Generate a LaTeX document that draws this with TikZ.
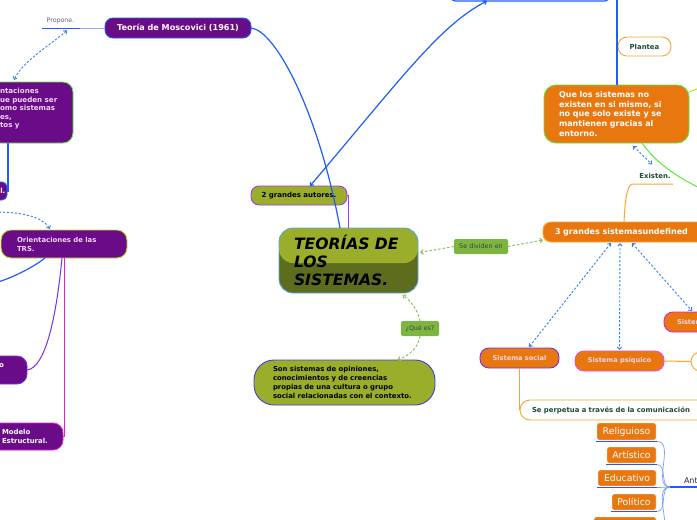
\documentclass[tikz,border=0pt]{standalone}
\usepackage{fontspec}
\setmainfont{DejaVu Sans}
\usetikzlibrary{arrows.meta,calc}
\definecolor{cPurple}{HTML}{6A0B87}
\definecolor{cOrange}{HTML}{E9770F}
\definecolor{cOlive}{HTML}{9AAE2C}
\definecolor{cOliveDk}{HTML}{5E6C1E}
\definecolor{cLabel}{HTML}{7CB640}
\definecolor{cBlue}{HTML}{1F5EF5}
\definecolor{cDash}{HTML}{2F80E8}
\definecolor{cTxtGreen}{HTML}{1C4A3A}
\definecolor{cMagenta}{HTML}{E01FE0}
\definecolor{cViolet}{HTML}{7A2EF2}
\definecolor{cGreenB}{HTML}{5EE83C}
\definecolor{cYGreen}{HTML}{BFE22A}
\definecolor{cLav}{HTML}{F0D6F0}
\definecolor{cDashG}{HTML}{8CC05A}
\definecolor{cBorderOr}{HTML}{F7A535}
\definecolor{cDescB}{HTML}{3E3EE0}
\definecolor{cPurpB}{HTML}{A23CE6}
\definecolor{cCenterB}{HTML}{5AA8E0}
\tikzset{
  base/.style={inner sep=0pt, outer sep=0pt, line width=0.9pt},
  pbox/.style={base, fill=cPurple, rounded corners=8pt, text=white, font=\bfseries\fontsize{6.9}{9}\selectfont},
  obox/.style={base, fill=cOrange, rounded corners=8pt, text=white, font=\bfseries\fontsize{6.9}{9}\selectfont},
  lbl/.style={base, fill=cLabel, rounded corners=2pt, text=black!75, font=\fontsize{6.4}{7}\selectfont},
  wpill/.style={base, fill=white, draw=cBorderOr, text=cTxtGreen, font=\bfseries\fontsize{6.9}{8}\selectfont},
  smallbox/.style={base, fill=cOrange, draw=white, line width=0.4pt, rounded corners=1.5pt, text=white, font=\fontsize{9.3}{10}\selectfont},
  conn/.style={draw=cBlue, line width=1.2pt},
  thinb/.style={draw=cBlue!60, line width=0.7pt},
  dashb/.style={draw=cDash, line width=0.9pt, dash pattern=on 2.2pt off 1.8pt},
  dashg/.style={draw=cDashG, line width=1pt, dash pattern=on 2.5pt off 2pt},
  uline/.style={draw=cBlue, line width=1.2pt},
  orline/.style={draw=cBorderOr, line width=1pt},
}
\begin{document}
\begin{tikzpicture}[x=1pt,y=-1pt, >={Straight Barb[length=2.5pt,width=4.5pt]}]
\useasboundingbox (0,0) rectangle (697,520);
\clip (0,0) rectangle (697,520);
\fill[white] (0,0) rectangle (697,520);

% ---------- nodes ----------
\node[base, draw=cBlue, line width=1.2pt, rounded corners=4pt, minimum width=158, minimum height=30] (topbox) at (530,-14) {};

\node[pbox, draw=cBlue, minimum width=146, minimum height=20, font=\bfseries\fontsize{8.1}{9}\selectfont] (mosc) at (178,28) {Teoría de Moscovici (1961)};
\node[base, text=black!60, font=\fontsize{6.3}{7}\selectfont] (propone) at (60.5,21) {Propone.};

\node[pbox, draw=cGreenB, rounded corners=10pt, minimum width=85, minimum height=61] (lefttop) at (30.5,112.5) {};
\node[base, anchor=north west, align=left, text=cLav, font=\bfseries\fontsize{7.1}{8.4}\selectfont] (lefttoptxt) at (0,88.5) {ntaciones\\ue pueden ser\\omo sistemas\\es,\\tos y};

\node[pbox, draw=cBlue, rounded corners=5pt, minimum width=19, minimum height=18] (ln) at (-2.5,191) {};
\node[base, text=white, font=\bfseries\fontsize{7}{8}\selectfont, anchor=west] (lntxt) at (0.3,190.5) {l.};

\node[pbox, draw=cYGreen, rounded corners=10pt, minimum width=126, minimum height=28, text=cLav, inner xsep=16pt, text width=94pt, align=left] (orient) at (64,244) {Orientaciones de las\\TRS.};

\node[pbox, draw=cViolet, rounded corners=10pt, minimum width=39, minimum height=28] (obox) at (7.5,370) {};
\node[base, text=white, font=\bfseries\fontsize{7}{8}\selectfont] (otxt) at (1.5,366) {o};

\node[pbox, draw=cMagenta, rounded corners=10pt, minimum width=75, minimum height=27, inner xsep=14pt, text width=47pt, align=left] (modelo) at (25.5,436.5) {\mbox{Modelo}\\\mbox{Estructural.}};

\node[base, fill=cOlive, draw=cPurpB, rounded corners=8pt, minimum width=96, minimum height=19, font=\bfseries\fontsize{7}{8}\selectfont] (gauto) at (299,195.5) {2 grandes autores.};

\node[base, draw=cCenterB, fill=cOliveDk, rounded corners=14pt, minimum width=139, minimum height=65, inner xsep=15pt, text width=109pt, align=left, font=\bfseries\itshape\fontsize{15.6}{17.8}\selectfont,
  path picture={\fill[cOlive] (path picture bounding box.north west) rectangle ([yshift=-35pt]path picture bounding box.north east);}] (center) at (348.5,260.5) {\mbox{TEORÍAS DE}\\LOS\\SISTEMAS.};

\node[base, fill=cOlive, draw=cDescB, rounded corners=20pt, minimum width=181, minimum height=45, inner xsep=19pt, text width=143pt, align=left, font=\bfseries\fontsize{6.9}{8.9}\selectfont] (desc) at (344.5,382.5) {\mbox{Son sistemas de opiniones,}\\\mbox{conocimientos y de creencias}\\\mbox{propias de una cultura o grupo}\\\mbox{social relacionadas con el contexto.}};

\node[lbl, minimum width=38, minimum height=15, font=\fontsize{6.3}{7}\selectfont] (qes) at (420,328.5) {¿Qué es?};
\node[lbl, minimum width=54, minimum height=15] (sediv) at (481,246.5) {Se dividen en};

\node[obox, draw=cBorderOr, minimum width=162, minimum height=20, inner xsep=12pt, text width=138pt, align=left, font=\bfseries\fontsize{8}{9}\selectfont] (tres) at (624,232) {\mbox{3 grandes sistemasundefined}};

\node[obox, draw=cGreenB, rounded corners=12pt, minimum width=145, minimum height=58, inner xsep=15pt, text width=115pt, align=left, font=\bfseries\fontsize{8}{9.7}\selectfont] (queb) at (616.5,114) {\mbox{Que los sistemas no}\\\mbox{existen en si mismo, si}\\\mbox{no que solo existe y se}\\\mbox{mantienen gracias al}\\entorno.};

\node[wpill, rounded corners=9pt, minimum width=53, minimum height=19] (plantea) at (644.5,46.5) {Plantea};
\node[base, text=cTxtGreen, font=\bfseries\fontsize{6.9}{7}\selectfont] (existen) at (655,176) {Existen.};

\node[obox, draw=cViolet, rounded corners=9pt, minimum width=79, minimum height=20, text=cLav, font=\bfseries\fontsize{6.6}{7}\selectfont] (ssoc) at (519.5,358) {Sistema social};
\node[obox, draw=cMagenta!80, rounded corners=9pt, minimum width=89, minimum height=20, text=cLav, font=\bfseries\fontsize{6.6}{7}\selectfont] (spsi) at (619.5,361) {Sistema psíquico};
\node[obox, draw=cMagenta, rounded corners=9pt, minimum width=76, minimum height=20, inner xsep=13pt, text width=50pt, align=left, text=cLav, font=\bfseries\fontsize{6.6}{7}\selectfont] (sthird) at (702,322) {Sistema};
\node[wpill, rounded corners=9.5pt, minimum width=49, minimum height=19] (swhite) at (715.5,361.5) {};

\node[wpill, rounded corners=10pt, minimum width=200, minimum height=20, inner xsep=12pt, text width=176pt, align=left] (perp) at (620,410) {\mbox{Se perpetua a través de la comunicación}};

\node[smallbox, minimum width=59, minimum height=17] (rel) at (626.5,431.5) {Religuioso};
\node[smallbox, minimum width=49, minimum height=16] (art) at (631.5,455) {Artístico};
\node[smallbox, minimum width=58, minimum height=16] (edu) at (627,478) {Educativo};
\node[smallbox, minimum width=44, minimum height=16] (pol) at (634,502) {Político};
\node[smallbox, minimum width=62, minimum height=17] (fifth) at (625,525.5) {};
\node[base, anchor=base west, text=black!85, font=\fontsize{8}{9}\selectfont] (ant) at (684,483) {Ant};

% ---------- coordinates ----------
\coordinate (pl) at (42,28.5);
\coordinate (pr) at (80,28.5);
\coordinate (dashin) at (-5,212);
\coordinate (oblue) at (-5,283);
\coordinate (topin) at (617,-5);
\coordinate (ygout) at (702,87);
\coordinate (gout) at (702,189);
\coordinate (exl) at (632,184);
\coordinate (exr) at (673,184);
\coordinate (junc) at (670,487);
\coordinate (antl) at (700,487);

% ---------- connectors ----------
\draw[uline] (pl) -- (pr);
\draw[draw=cBlue!50, line width=0.6pt] (pr) -- (pr -| mosc.west);
\draw[dashb, <->] ($(pl)!0.66!(pr)+(0,2)$) .. controls (50,45) and (22,62) .. ($(lefttop.north west)+(26,-2)$);
\draw[conn] (mosc.east) .. controls (275,30) and (318,110) .. ($(center.north west)+(61,0)$);

\draw[conn] ($(lefttop.south west)+(20,0)$) |- (ln.east);
\draw[dashb, ->] (dashin) .. controls (20,212) and (42,216) .. ($(orient.north west)+(49,-1)$);
\draw[conn] ($(orient.south west)+(44,0)$) .. controls (35,266) and (15,277) .. (oblue);
\draw[draw=cViolet, line width=1pt] ($(orient.south west)+(61,0)$) .. controls (56,320) and (45,368) .. (obox.east);
\draw[draw=cMagenta, line width=1pt] ($(orient.south west)+(63,0)$) |- (modelo.east);

\draw[draw=cPurpB, line width=1pt] (gauto.east) -| (center.north);
\draw[conn, <->] ($(gauto.north)+(11,0)$) .. controls (400,80) and (440,25) .. ($(topbox.south west)+(36,0)$);

\draw[conn] (topin) -- (topin |- queb.north);
\draw[draw=cYGreen, line width=1pt] ($(queb.east)+(0,-22)$) -- (ygout);
\draw[draw=cGreenB, line width=1pt] ($(queb.south)+(25.5,0)$) .. controls (655,162) and (678,178) .. (gout);
\draw[dashb, <->] ($(queb.south)+(16.5,3)$) -- ($(existen.north)+(-3,-9)$);
\draw[orline] (exr) -- (exl) .. controls (627,186) and (625,200) .. (tres.north);

\draw[dashg, ->] (sediv.east) -- ($(tres.west)+(0,8)$);
\draw[dashg, ->] (sediv.west) -- ($(center.east)+(2,-8)$);
\draw[dashg, ->] (qes.north) .. controls (418,310) and (410,300) .. ($(center.south)+(54,2)$);
\draw[dashg, ->] (qes.south) .. controls (418,348) and (410,355) .. ($(desc.north)+(53,0)$);

\draw[dashb, <->] ($(tres.south)+(-13,1)$) -- ($(ssoc.north)+(9.5,-1)$);
\draw[dashb, <->] ($(tres.south)+(-4,1)$) -- ($(spsi.north)+(0,-1)$);
\draw[dashb, <->] ($(tres.south)+(8,1)$) -- ($(sthird.north west)+(28,-1)$);

\draw[orline] (spsi.east) -- (swhite.west);
\draw[orline] (ssoc.south) -- (ssoc.south |- perp.west);

\foreach \b in {rel,art,edu,pol,fifth}{
  \draw[uline] ($(\b.south west)+(-1,1.5)$) -- ($(\b.south east)+(1,1.5)$);
  \draw[thinb] ($(\b.south east)+(1,1.5)$) to[out=0,in=180] (junc);
}
\draw[uline] (junc) -- (antl);
\end{tikzpicture}
\end{document}
